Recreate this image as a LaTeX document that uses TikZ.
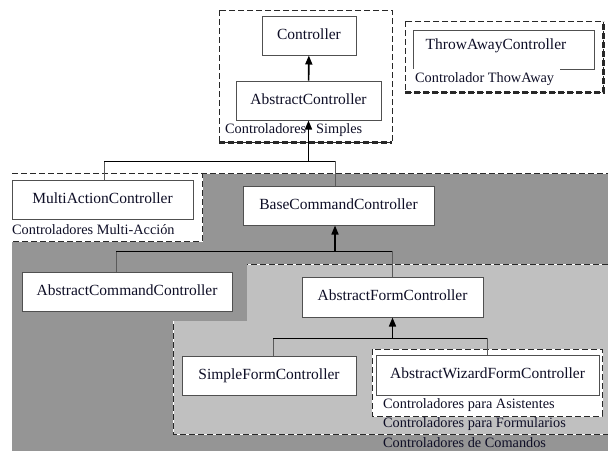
\documentclass[tikz,border=0pt]{standalone}
\usepackage{fontspec}
\setmainfont{Liberation Serif}
\usetikzlibrary{arrows.meta}
\definecolor{darkreg}{RGB}{149,149,149}
\definecolor{lightreg}{RGB}{192,192,192}
\definecolor{txt}{RGB}{14,14,38}
\definecolor{boxline}{RGB}{80,80,80}
\definecolor{dashc}{RGB}{40,40,40}
\definecolor{dropc}{RGB}{90,90,90}
\tikzset{
  cls/.style={draw=boxline, line width=1pt, fill=white, text=txt, inner sep=0pt,
    font=\fontsize{15.5}{18}\selectfont, text height=10.5pt, text depth=3.5pt},
  grp/.style={text=txt, anchor=west, inner sep=0pt, font=\fontsize{14.3}{17}\selectfont},
  dashline/.style={draw=dashc, line width=1pt, dash pattern=on 6pt off 3pt,
    preaction={draw=white, solid, line width=1pt}},
  dashthick/.style={draw=dashc, line width=2.2pt, dash pattern=on 6pt off 3pt},
  bar/.style={draw=black, line width=1pt},
  drop/.style={draw=dropc, line width=1pt},
  inh/.style={draw=black, line width=1.6pt, -{Triangle[length=9pt,width=7pt]}}
}
\begin{document}
\begin{tikzpicture}[x=1pt,y=-1pt]
\useasboundingbox (0,0) rectangle (608,451);
% regions
\fill[darkreg] (12,173) rectangle (608,451);
\draw[dashline] (12,173) -- (608,173);
\fill[lightreg] (173,264) rectangle (608,434);
\draw[dashline] (608,264) -- (173,264) -- (173,434) -- (608,434);
\fill[darkreg] (171,262) rectangle (247,321);
% multi-action group
\fill[white] (12,173) rectangle (202,241);
\draw[dashline] (12,173) -- (202,173) -- (202,241) -- (12,241);
% wizard group
\fill[white] (372,349) rectangle (602,416);
\draw[dashline] (372,349) rectangle (602,416);
% simple group
\fill[white] (219,10) rectangle (392,142);
\draw[dashline] (219,10) rectangle (392,142);
\draw[dashthick] (219,142.5) -- (392,142.5);
% throwaway group
\fill[white] (405,21) rectangle (603,92);
\draw[dashline] (405,21) rectangle (603,92);
\draw[dashthick] (405,92.5) -- (603.5,92.5) -- (603.5,21);
% nodes
\node[cls, minimum width=94pt, minimum height=39pt] (ctrl) at (309,35.5) {Controller};
\node[cls, minimum width=145pt, minimum height=39pt] (actrl) at (308.5,100.5) {AbstractController};
\node[text=txt, inner sep=0pt, font=\fontsize{15.5}{18}\selectfont] (tac) at (496,46) {ThrowAwayController};
\draw[draw=boxline, line width=1pt] (560,69) -- (594,69) -- (594,30) -- (413,30) -- (413,69);
\node[cls, minimum width=181pt, minimum height=39pt] (mac) at (102.5,199.5) {MultiActionController};
\node[cls, minimum width=191pt, minimum height=39pt] (bcc) at (338.5,205.5) {BaseCommandController};
\node[cls, minimum width=210pt, minimum height=39pt] (acc) at (127,291.5) {AbstractCommandController};
\node[cls, minimum width=181pt, minimum height=40pt] (afc) at (392.5,297) {AbstractFormController};
\node[cls, minimum width=174pt, minimum height=39pt] (sfc) at (269,375.5) {SimpleFormController};
\node[cls, minimum width=223pt, minimum height=40pt] (wfc) at (487.5,375) {AbstractWizardFormController};
% group labels
\node[grp] (lsimp) at (225,130) {Controladores\hspace{10pt}Simples};
\node[grp] (lthrow) at (415,79) {Controlador ThowAway};
\node[grp] (lmulti) at (12,230) {Controladores Multi-Acción};
\node[grp] (lwiz) at (383,405) {Controladores para Asistentes};
\node[grp] (lform) at (383,424) {Controladores para Formularios};
\node[grp] (lcmd) at (383,443) {Controladores de Comandos};
% connectors
\draw[inh] (actrl) -- (ctrl);
\coordinate (b1l) at (104,161);
\coordinate (b1r) at (335,161);
\draw[drop] (b1l) -- (b1l |- mac.north);
\draw[drop] (b1r) -- (b1r |- bcc.north);
\draw[bar] (b1l) -- (b1r);
\draw[inh] (actrl.south |- b1l) -- (actrl.south);
\coordinate (b2l) at (116,251);
\coordinate (b2r) at (392,251);
\draw[drop] (b2l) -- (b2l |- acc.north);
\draw[drop] (b2r) -- (b2r |- afc.north);
\draw[bar] (b2l) -- (b2r);
\draw[inh] (b2l -| 335,0) -- (bcc.south -| 335,0);
\coordinate (b3l) at (273,338);
\coordinate (b3r) at (487,338);
\draw[drop] (b3l) -- (b3l |- sfc.north);
\draw[drop] (b3r) -- (b3r |- wfc.north);
\draw[bar] (b3l) -- (b3r);
\draw[inh] (afc.south |- b3l) -- (afc.south);
\end{tikzpicture}
\end{document}
